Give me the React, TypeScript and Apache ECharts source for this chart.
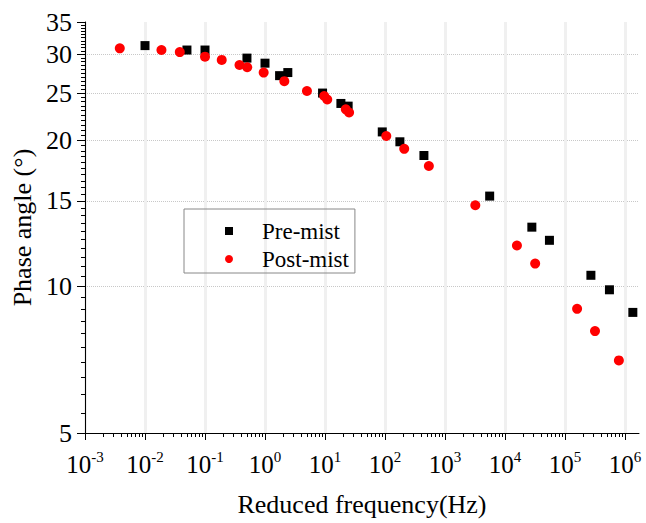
import React, { useEffect, useRef } from "react";
import * as echarts from "echarts";

// Reduced frequency (Hz) and phase angle (°)
const preMistFreq = [0.01, 0.05, 0.1, 0.5, 1, 1.75, 2.4, 9.1, 18.4, 24.3, 90, 177, 445, 5550, 28000, 55000, 270000, 550000, 1350000];
const preMistPhase = [31.3, 30.65, 30.65, 29.5, 28.8, 27.15, 27.55, 25.0, 23.8, 23.5, 20.8, 19.85, 18.6, 15.35, 13.25, 12.45, 10.55, 9.85, 8.85];
const postMistFreq = [0.0038, 0.0188, 0.038, 0.1, 0.19, 0.376, 0.505, 0.95, 2.1, 5.0, 9.7, 10.9, 22.2, 25.2, 105, 209, 538, 3200, 15800, 31800, 159000, 316000, 790000];
const postMistPhase = [30.9, 30.65, 30.35, 29.7, 29.25, 28.55, 28.25, 27.55, 26.45, 25.25, 24.65, 24.25, 23.15, 22.8, 20.4, 19.2, 17.7, 14.7, 12.15, 11.15, 9.0, 8.1, 7.05];

const xDecadeExponents = [-3, -2, -1, 0, 1, 2, 3, 4, 5, 6];
const yTickLabels = [5, 10, 15, 20, 25, 30, 35];
const yGridValues = [10, 15, 20, 25, 30];

const FONT = "Liberation Serif";

export default function App() {
  const ref = useRef<HTMLDivElement>(null);
  useEffect(() => {
    document.body.style.margin = "0";
    const chart = echarts.init(ref.current!, null, { renderer: "svg" });
    const yMin = Math.log10(5);
    const yMax = Math.log10(35);
    const xMin = -3;
    const xMax = 6.233;
    const yMinor: number[] = [];
    for (let v = 5.5; v < 35; v += 0.5) if (v % 5 !== 0) yMinor.push(Math.log10(v));
    const xMinor: number[] = [];
    for (let n = -3; n < 7; n++)
      for (let k = 2; k <= 9; k++) {
        const lv = n + Math.log10(k);
        if (lv < xMax) xMinor.push(lv);
      }
    const yMajor = yTickLabels.map((v) => Math.log10(v));
    const yGrid = yGridValues.map((v) => Math.log10(v));

    chart.setOption({
      animation: false,
      textStyle: { fontFamily: FONT },
      grid: { left: 85, right: 7, top: 22, bottom: 90, containLabel: false },
      legend: {
        orient: "vertical",
        left: 184,
        top: 209,
        padding: [10, 6, 2, 41],
        borderColor: "#888",
        borderWidth: 1,
        itemWidth: 8,
        itemHeight: 8,
        itemGap: 4,
        textStyle: { fontFamily: FONT, fontSize: 23, color: "#000", lineHeight: 24, padding: [0, 0, 0, 24] },
        data: [
          { name: "Pre-mist", icon: "rect" },
          { name: "Post-mist", icon: "circle" },
        ],
      },
      xAxis: [
        {
          type: "value",
          min: xMin,
          max: xMax,
          position: "bottom",
          axisLine: { show: true, onZero: false, lineStyle: { color: "#000", width: 1 } },
          axisTick: { show: true, customValues: xDecadeExponents, length: 7, lineStyle: { color: "#000" } },
          axisLabel: {
            customValues: xDecadeExponents,
            margin: 16,
            formatter: (v: number) => `{b|10}{s|${Math.round(v)}}`,
            rich: {
              b: { fontFamily: FONT, fontSize: 25, color: "#000", lineHeight: 28, verticalAlign: "bottom" },
              s: { fontFamily: FONT, fontSize: 15, color: "#000", verticalAlign: "top" },
            },
          },
          splitLine: { show: true, lineStyle: { color: "#f0f0f0", width: 3 } },
          name: "Reduced frequency(Hz)",
          nameLocation: "middle",
          nameGap: 58,
          nameTextStyle: { fontFamily: FONT, fontSize: 26, color: "#000" },
        },
        {
          type: "value",
          min: xMin,
          max: xMax,
          position: "bottom",
          axisLine: { show: false, onZero: false },
          axisTick: { show: true, customValues: xMinor, length: 4, lineStyle: { color: "#000" } },
          axisLabel: { show: false },
          splitLine: { show: false },
        },
      ],
      yAxis: [
        {
          type: "value",
          min: yMin,
          max: yMax,
          position: "left",
          axisLine: { show: true, onZero: false, lineStyle: { color: "#000", width: 1 } },
          axisTick: { show: true, customValues: yMajor, length: 8, lineStyle: { color: "#000" } },
          axisLabel: {
            customValues: yMajor,
            margin: 13,
            formatter: (v: number) => String(Math.round(Math.pow(10, v))),
            fontFamily: FONT,
            fontSize: 26,
            color: "#000",
          },
          splitLine: { show: false },
          name: "Phase angle (°)",
          nameLocation: "middle",
          nameRotate: 90,
          nameGap: 46,
          nameTextStyle: { fontFamily: FONT, fontSize: 26, color: "#000" },
        },
        {
          type: "value",
          min: yMin,
          max: yMax,
          position: "left",
          axisLine: { show: false, onZero: false },
          axisTick: { show: true, customValues: yMinor, length: 4, lineStyle: { color: "#000" } },
          axisLabel: { show: false },
          splitLine: { show: false },
        },
        {
          type: "value",
          min: yMin,
          max: yMax,
          position: "left",
          axisLine: { show: false, onZero: false },
          axisTick: { show: false, customValues: yGrid },
          axisLabel: { show: false },
          splitLine: { show: true, lineStyle: { color: "#c8c8c8", type: "dotted", width: 1 } },
        },
      ],
      series: [
        {
          type: "scatter",
          name: "Pre-mist",
          symbol: "rect",
          symbolSize: 9,
          itemStyle: { color: "#000", opacity: 1 },
          data: preMistFreq.map((f, i) => [Math.log10(f), Math.log10(preMistPhase[i])]),
        },
        {
          type: "scatter",
          name: "Post-mist",
          symbol: "circle",
          symbolSize: 10,
          itemStyle: { color: "#ff0000", opacity: 1 },
          data: postMistFreq.map((f, i) => [Math.log10(f), Math.log10(postMistPhase[i])]),
        },
      ],
    });
    return () => chart.dispose();
  }, []);
  return <div ref={ref} style={{ width: 646, height: 523 }} />;
}
